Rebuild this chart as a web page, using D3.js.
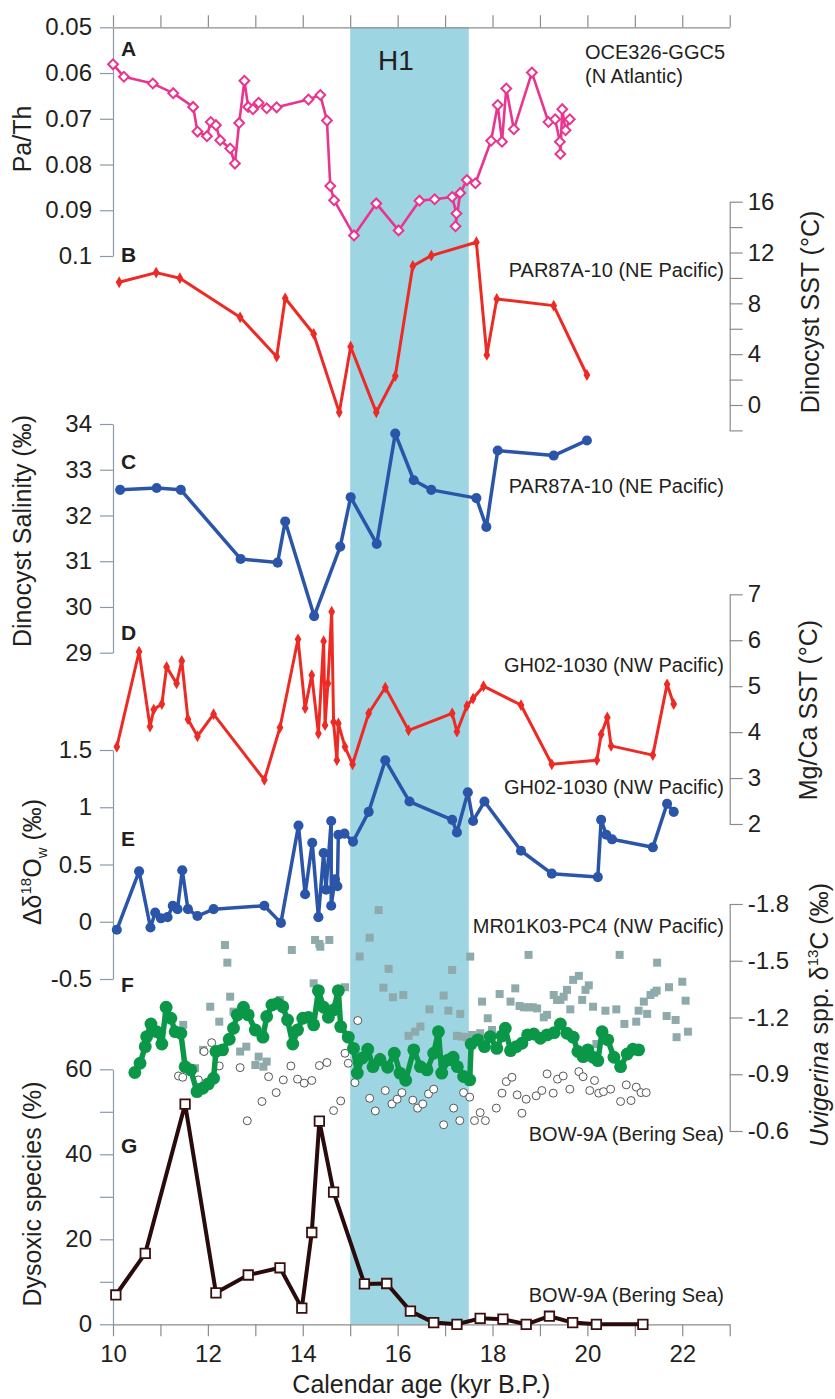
<!DOCTYPE html>
<html>
<head>
<meta charset="utf-8">
<script src="https://cdn.jsdelivr.net/npm/d3@7"></script>
<style>
body { margin: 0; background: #fff; }
svg { display: block; font-family: "Liberation Sans", Arial, sans-serif; }
</style>
</head>
<body>
<svg id="chart" width="835" height="1399"></svg>
<script>
// ---- data (age in kyr B.P., value) ----
var h1Band = [15, 17.5];

var paTh = [[10.0,0.0581],[10.23,0.0608],[10.84,0.0623],[11.27,0.0644],[11.69,0.0674],[11.78,0.0728],
  [11.98,0.0738],[12.06,0.0707],[12.17,0.0714],[12.26,0.0747],[12.47,0.0765],[12.57,0.0798],[12.66,0.0709],
  [12.77,0.0617],[12.85,0.0674],[12.95,0.0679],[13.07,0.0665],[13.24,0.0677],[13.45,0.0675],[14.12,0.0658],
  [14.37,0.0648],[14.51,0.0704],[14.58,0.0847],[14.66,0.0878],[15.08,0.0955],[15.55,0.0885],[16.02,0.0944],
  [16.46,0.0879],[16.78,0.0876],[17.15,0.0871],[17.24,0.0907],[17.22,0.0935],[17.32,0.0862],[17.46,0.0834],
  [17.64,0.0841],[17.97,0.0748],[18.11,0.0670],[18.2,0.0750],[18.29,0.0634],[18.45,0.0723],[18.83,0.0599],
  [19.18,0.0707],[19.32,0.0701],[19.42,0.0750],[19.43,0.0777],[19.47,0.0679],[19.54,0.0725],[19.63,0.0701]];

var dinoSST = [[10.13,9.66],[10.91,10.42],[11.41,9.98],[12.68,6.9],[13.45,3.8],[13.63,8.4],[14.23,5.59],
  [14.77,-0.58],[15.01,4.59],[15.55,-0.58],[15.95,2.28],[16.32,10.94],[16.71,11.76],[17.66,12.81],
  [17.88,3.94],[18.09,8.35],[19.29,7.82],[19.99,2.36]];

var dinoSal = [[10.15,32.56],[10.92,32.6],[11.43,32.56],[12.69,31.05],[13.47,30.97],[13.63,31.87],
  [14.24,29.8],[14.79,31.32],[15.01,32.4],[15.56,31.38],[15.95,33.79],[16.34,32.77],[16.71,32.56],
  [17.66,32.38],[17.87,31.75],[18.11,33.42],[19.29,33.31],[19.99,33.64]];

var mgCaSST = [[10.08,3.68],[10.55,5.75],[10.78,4.12],[10.86,4.49],[11.03,4.61],[11.13,5.42],[11.34,5.06],
  [11.45,5.55],[11.58,4.28],[11.78,3.91],[12.12,4.39],[13.19,2.96],[13.52,4.1],[13.9,6.02],[14.05,4.52],
  [14.19,5.24],[14.33,3.97],[14.44,5.98],[14.47,4.15],[14.53,5.06],[14.61,6.62],[14.65,4.22],[14.72,3.39],
  [14.75,4.19],[14.89,3.68],[15.05,3.3],[15.39,4.41],[15.74,4.97],[16.23,4.04],[17.15,4.41],[17.25,4.01],
  [17.46,4.57],[17.59,4.73],[17.81,5.0],[18.6,4.59],[19.25,3.3],[20.2,3.39],[20.29,3.95],[20.42,4.32],
  [20.5,3.7],[21.38,3.5],[21.68,5.04],[21.82,4.61]];

var d18Ow = [[10.08,-0.07],[10.55,0.44],[10.79,-0.05],[10.89,0.08],[11.01,0.03],[11.15,0.04],[11.26,0.14],
  [11.36,0.11],[11.46,0.45],[11.58,0.11],[11.78,0.05],[12.12,0.11],[13.19,0.14],[13.54,-0.01],[13.91,0.84],
  [14.05,0.24],[14.2,0.69],[14.33,0.04],[14.44,0.6],[14.49,0.28],[14.6,0.88],[14.6,0.14],[14.68,0.37],
  [14.73,0.31],[14.75,0.76],[14.88,0.77],[15.06,0.7],[15.39,0.96],[15.74,1.41],[16.25,1.05],[17.15,0.89],
  [17.25,0.78],[17.48,1.13],[17.59,0.88],[17.83,1.05],[18.6,0.62],[19.25,0.42],[20.22,0.39],[20.29,0.89],
  [20.4,0.76],[20.52,0.72],[21.38,0.65],[21.68,1.03],[21.82,0.96]];

// MR01K03-PC4 (grey squares)
var d13cMR = [[11.48,-1.161],[11.73,-0.932],[11.9,-1.029],[12.05,-1.257],[12.24,-1.178],[12.36,-1.583],
  [12.41,-1.49],[12.47,-1.31],[12.54,-1.231],[12.68,-1.02],[12.81,-1.046],[13.0,-0.949],[13.07,-0.993],
  [13.17,-0.94],[13.24,-0.967],[13.52,-1.293],[13.77,-1.557],[14.23,-1.381],[14.26,-1.61],[14.35,-1.589],
  [14.37,-1.574],[14.56,-1.61],[14.89,-1.36],[15.2,-1.522],[15.41,-1.622],[15.6,-1.768],[15.7,-1.358],
  [15.81,-1.457],[15.9,-1.307],[16.12,-1.319],[16.23,-1.103],[16.37,-1.125],[16.48,-1.152],[16.67,-1.243],
  [16.97,-1.316],[17.07,-1.236],[17.15,-1.451],[17.25,-1.103],[17.32,-1.219],[17.36,-1.099],[17.46,-1.096],
  [17.53,-1.522],[17.57,-1.108],[17.74,-1.117],[17.78,-1.284],[17.9,-1.196],[17.99,-1.134],[18.15,-1.324],
  [18.38,-1.284],[18.48,-1.354],[18.57,-1.261],[18.66,-1.254],[18.76,-1.254],[18.76,-1.531],[18.85,-1.254],
  [18.94,-1.248],[19.08,-1.201],[19.15,-1.214],[19.29,-1.319],[19.36,-1.293],[19.43,-1.293],[19.5,-1.31],
  [19.57,-1.346],[19.64,-1.243],[19.7,-1.399],[19.82,-1.42],[19.89,-1.293],[19.96,-1.346],[20.03,-1.37],
  [20.12,-1.257],[20.19,-1.06],[20.38,-1.236],[20.61,-1.243],[20.68,-1.531],[20.78,-1.166],[21.03,-1.178],
  [21.08,-1.236],[21.19,-1.284],[21.26,-1.219],[21.33,-1.319],[21.41,-1.331],[21.46,-1.342],[21.47,-1.49],
  [21.67,-1.208],[21.72,-1.36],[21.86,-1.187],[21.88,-1.096],[22.0,-1.389],[22.07,-1.289],[22.12,-1.125]];

// BOW-9A (open circles)
var d13cBOW = [[11.38,-0.891],[11.47,-0.884],[11.8,-0.87],[11.92,-1.02],[12.08,-1.067],[12.24,-0.944],
  [12.68,-0.935],[12.83,-0.654],[13.14,-0.756],[13.28,-0.887],[13.44,-0.803],[13.59,-0.87],[13.75,-0.944],
  [13.89,-0.874],[14.03,-0.853],[14.19,-0.867],[14.35,-0.946],[14.51,-0.962],[14.65,-0.708],[14.8,-0.759],
  [14.89,-1.011],[14.96,-0.958],[15.1,-0.856],[15.16,-1.184],[15.41,-0.773],[15.53,-0.706],[15.63,-0.99],
  [15.74,-0.814],[15.88,-0.743],[15.99,-0.768],[16.09,-0.803],[16.32,-0.763],[16.42,-0.721],[16.53,-0.743],
  [16.65,-0.796],[16.76,-0.821],[16.97,-0.633],[17.18,-0.721],[17.31,-0.655],[17.39,-0.803],[17.52,-0.779],
  [17.62,-0.655],[17.74,-0.697],[17.85,-0.655],[18.08,-0.721],[18.2,-0.8],[18.29,-0.861],[18.41,-0.884],
  [18.52,-0.791],[18.62,-0.694],[18.71,-0.768],[18.92,-0.786],[19.04,-0.814],[19.15,-0.902],[19.28,-0.8],
  [19.37,-0.874],[19.49,-0.891],[19.63,-0.821],[19.82,-0.914],[19.91,-0.887],[20.05,-0.814],[20.15,-0.867],
  [20.24,-0.8],[20.34,-0.808],[20.49,-0.821],[20.7,-0.756],[20.82,-0.844],[20.92,-0.761],[21.03,-0.832],
  [21.13,-0.803],[21.24,-0.803]];

// green record
var d13cGreen = [[10.46,-0.909],[10.57,-0.958],[10.68,-1.046],[10.71,-1.099],[10.8,-1.166],[10.92,-1.125],
  [11.03,-1.06],[11.12,-1.254],[11.22,-1.196],[11.31,-1.125],[11.43,-1.117],[11.52,-0.94],[11.64,-0.923],
  [11.77,-0.808],[11.89,-0.826],[12.01,-0.849],[12.12,-0.879],[12.17,-1.02],[12.31,-1.029],[12.45,-1.085],
  [12.54,-1.143],[12.62,-1.214],[12.75,-1.254],[12.85,-1.214],[13.0,-1.134],[13.16,-1.096],[13.24,-1.205],
  [13.35,-1.266],[13.47,-1.275],[13.58,-1.257],[13.68,-1.187],[13.79,-1.06],[13.89,-1.134],[14.0,-1.196],
  [14.12,-1.201],[14.23,-1.161],[14.33,-1.342],[14.44,-1.254],[14.54,-1.201],[14.65,-1.24],[14.75,-1.342],
  [14.8,-1.152],[14.96,-1.096],[15.07,-1.037],[15.15,-0.906],[15.25,-0.985],[15.37,-1.032],[15.48,-0.94],
  [15.63,-0.976],[15.79,-0.937],[15.93,-1.011],[16.05,-0.906],[16.17,-0.868],[16.34,-1.029],[16.48,-0.94],
  [16.62,-0.923],[16.76,-1.011],[16.86,-1.125],[16.93,-0.906],[17.07,-0.976],[17.17,-0.99],[17.26,-0.94],
  [17.39,-0.888],[17.52,-0.87],[17.55,-1.06],[17.69,-1.082],[17.83,-1.046],[17.95,-1.099],[18.09,-1.037],
  [18.2,-1.103],[18.27,-1.143],[18.38,-1.025],[18.5,-1.046],[18.62,-1.064],[18.74,-1.108],[18.87,-1.113],
  [19.01,-1.09],[19.15,-1.108],[19.3,-1.12],[19.43,-1.166],[19.57,-1.117],[19.7,-1.096],[19.8,-1.02],
  [19.91,-0.993],[20.01,-1.029],[20.12,-0.99],[20.22,-0.972],[20.31,-1.125],[20.43,-1.082],[20.56,-0.99],
  [20.7,-0.94],[20.84,-1.007],[20.96,-1.032],[21.08,-1.029]];

var dysoxic = [[10.06,6.9],[10.68,16.7],[11.52,51.8],[12.17,7.4],[12.85,11.6],[13.52,13.3],[13.98,3.8],
  [14.19,21.6],[14.35,47.8],[14.65,31.1],[15.3,9.5],[15.77,9.6],[16.27,3.1],[16.76,0.4],[17.25,0],
  [17.74,1.4],[18.22,1.2],[18.71,0],[19.2,1.9],[19.69,0.4],[20.19,0],[21.17,0]];

// ---- tick values ----
var ageTicks = d3.range(10, 24);
var ageLabels = [10, 12, 14, 16, 18, 20, 22];
var paThTicks = [0.05, 0.06, 0.07, 0.08, 0.09, 0.1];
var sstTicks = [-2, 0, 2, 4, 6, 8, 10, 12, 14, 16];
var salTicks = [29, 30, 31, 32, 33, 34];
var mgTicks = [2, 3, 4, 5, 6, 7];
var d18Ticks = [-0.5, 0, 0.5, 1, 1.5];
var d13Ticks = [-1.8, -1.5, -1.2, -0.9, -0.6];
var dysTicks = [0, 10, 20, 30, 40, 50, 60];

// ---- layout ----
var svg = d3.select("#chart");
var plotL = 113, plotR = 729.7, plotT = 27.3, plotB = 1324.3;

var x = d3.scaleLinear().domain([10, 23]).range([plotL, plotR]);
var yA = d3.scaleLinear().domain([0.05, 0.1]).range([27.3, 256]);
var yB = d3.scaleLinear().domain([-2, 16]).range([430.4, 201.7]);
var yC = d3.scaleLinear().domain([29, 34]).range([652.7, 424]);
var yD = d3.scaleLinear().domain([2, 7]).range([824, 594.3]);
var yE = d3.scaleLinear().domain([-0.5, 1.5]).range([979, 750]);
var yF = d3.scaleLinear().domain([-1.8, -0.6]).range([904, 1131]);
var yG = d3.scaleLinear().domain([0, 60]).range([plotB, 1069.3]);

var colPink = "#e9358f", colRed = "#ed2a24", colBlue = "#2a55a8", colGreen = "#0a9848";

// H1 band
svg.append("rect")
  .attr("x", x(h1Band[0])).attr("width", x(h1Band[1]) - x(h1Band[0]))
  .attr("y", plotT).attr("height", plotB - plotT)
  .attr("fill", "#9dd5e3");

svg.append("text").attr("x", 378).attr("y", 70)
  .attr("font-size", 28).attr("fill", "#231f20").text("H1");

// ---- axes ----
function styleAxis(g, col) {
  g.select(".domain").attr("stroke", col).attr("stroke-width", 1.2);
  g.selectAll(".tick line").attr("stroke", col).attr("stroke-width", 1.2);
  g.selectAll(".tick text").attr("font-size", 24).attr("fill", "#231f20")
    .attr("font-family", "Liberation Sans, Arial, sans-serif");
}
function trim(d) { return String(+d.toFixed(2)); }

var axisCol = "#8a9aa8", axisColR = "#8c8c8c";

svg.append("g").attr("transform", "translate(0," + plotT + ")")
  .call(d3.axisTop(x).tickValues(ageTicks).tickSize(12).tickSizeOuter(0).tickFormat(""))
  .call(styleAxis, axisColR);

svg.append("g").attr("transform", "translate(0," + plotB + ")")
  .call(d3.axisBottom(x).tickValues(ageTicks).tickSize(12).tickSizeOuter(0).tickPadding(9)
    .tickFormat(function(d) { return ageLabels.indexOf(d) >= 0 ? d : ""; }))
  .call(styleAxis, axisColR);

function leftAxis(y, ticks, fmt) {
  svg.append("g").attr("transform", "translate(" + plotL + ",0)")
    .call(d3.axisLeft(y).tickValues(ticks).tickSize(13).tickSizeOuter(0).tickPadding(8).tickFormat(fmt))
    .call(styleAxis, axisCol);
}
function rightAxis(y, ticks, fmt) {
  svg.append("g").attr("transform", "translate(" + plotR + ",0)")
    .call(d3.axisRight(y).tickValues(ticks).tickSize(13).tickSizeOuter(0).tickPadding(5).tickFormat(fmt))
    .call(styleAxis, axisColR);
}
leftAxis(yA, paThTicks, trim);
rightAxis(yB, sstTicks, function(d) { return d % 4 === 0 ? d : ""; });
leftAxis(yC, salTicks, trim);
rightAxis(yD, mgTicks, trim);
leftAxis(yE, d18Ticks, trim);
rightAxis(yF, d13Ticks, function(d) { return d.toFixed(1); });
leftAxis(yG, dysTicks, function(d) { return d % 20 === 0 ? d : ""; });

// ---- series ----
function drawSeries(data, y, o) {
  var g = svg.append("g");
  if (o.width) {
    g.append("path").datum(data)
      .attr("d", d3.line().x(function(d) { return x(d[0]); }).y(function(d) { return y(d[1]); }))
      .attr("fill", "none").attr("stroke", o.color).attr("stroke-width", o.width)
      .attr("stroke-linejoin", "round").attr("stroke-linecap", "round");
  }
  g.selectAll("path.m").data(data).enter().append("path").attr("class", "m")
    .attr("transform", function(d) {
      return "translate(" + x(d[0]) + "," + y(d[1]) + ")" + (o.rotate ? " rotate(45)" : "");
    })
    .attr("d", d3.symbol().type(o.symbol).size(o.size))
    .attr("fill", o.fill).attr("stroke", o.stroke || "none").attr("stroke-width", o.sw || 0);
}

drawSeries(paTh, yA, { color: colPink, width: 2.6, symbol: d3.symbolSquare, size: 48, rotate: true,
  fill: "#fff", stroke: colPink, sw: 2 });
drawSeries(dinoSST, yB, { color: colRed, width: 3, symbol: d3.symbolDiamond, size: 40, fill: colRed });
drawSeries(dinoSal, yC, { color: colBlue, width: 3.5, symbol: d3.symbolCircle, size: 80, fill: colBlue });
drawSeries(mgCaSST, yD, { color: colRed, width: 3, symbol: d3.symbolDiamond, size: 40, fill: colRed });
drawSeries(d18Ow, yE, { color: colBlue, width: 3.5, symbol: d3.symbolCircle, size: 80, fill: colBlue });
drawSeries(d13cMR, yF, { symbol: d3.symbolSquare, size: 64, fill: "#8eaaab" });
drawSeries(d13cBOW, yF, { symbol: d3.symbolCircle, size: 50, fill: "#fff", stroke: "#555", sw: 1 });
drawSeries(d13cGreen, yF, { color: colGreen, width: 5.5, symbol: d3.symbolCircle, size: 130, fill: colGreen });
drawSeries(dysoxic, yG, { color: "#2a0b0b", width: 4, symbol: d3.symbolSquare, size: 90,
  fill: "#fff", stroke: "#3a1010", sw: 1.8 });

// ---- labels ----
function label(txt, px, py, opts) {
  opts = opts || {};
  return svg.append("text").attr("x", px).attr("y", py)
    .attr("font-size", opts.size || 20).attr("font-weight", opts.bold ? "bold" : null)
    .attr("text-anchor", opts.anchor || "start").attr("fill", "#231f20").text(txt);
}
var panels = [["A", 56], ["B", 262], ["C", 469], ["D", 640], ["E", 846], ["F", 992], ["G", 1153]];
panels.forEach(function(p) { label(p[0], 121, p[1], { bold: true, size: 21 }); });

label("OCE326-GGC5", 585, 59);
label("(N Atlantic)", 585, 83);
label("PAR87A-10 (NE Pacific)", 724, 277, { anchor: "end" });
label("PAR87A-10 (NE Pacific)", 724, 493, { anchor: "end" });
label("GH02-1030 (NW Pacific)", 724, 672, { anchor: "end" });
label("GH02-1030 (NW Pacific)", 724, 794, { anchor: "end" });
label("MR01K03-PC4 (NW Pacific)", 724, 933, { anchor: "end" });
label("BOW-9A (Bering Sea)", 724, 1141, { anchor: "end" });
label("BOW-9A (Bering Sea)", 724, 1302, { anchor: "end" });

// axis titles
function vTitle(px, py) {
  return svg.append("text").attr("transform", "translate(" + px + "," + py + ") rotate(-90)")
    .attr("text-anchor", "middle").attr("font-size", 25).attr("fill", "#231f20");
}
vTitle(31, 139).text("Pa/Th");
vTitle(31, 531).text("Dinocyst Salinity (\u2030)");
var t = vTitle(41, 862);
t.append("tspan").text("\u0394\u03b4");
t.append("tspan").attr("font-size", 15).attr("dy", -10).text("18");
t.append("tspan").attr("dy", 10).text("O");
t.append("tspan").attr("font-size", 15).attr("dy", 6).text("w");
t.append("tspan").attr("dy", -6).text(" (\u2030)");
vTitle(41, 1194).text("Dysoxic species (%)");

vTitle(819, 312).text("Dinocyst SST (\u00b0C)");
vTitle(817, 710).text("Mg/Ca SST (\u00b0C)");
var u = vTitle(828, 1015);
u.append("tspan").attr("font-style", "italic").text("Uvigerina");
u.append("tspan").text(" spp. \u03b4");
u.append("tspan").attr("font-size", 15).attr("dy", -10).text("13");
u.append("tspan").attr("dy", 10).text("C (\u2030)");

svg.append("text").attr("x", x(16.5)).attr("y", 1393).attr("text-anchor", "middle")
  .attr("font-size", 25).attr("fill", "#231f20").text("Calendar age (kyr B.P.)");
</script>
</body>
</html>
